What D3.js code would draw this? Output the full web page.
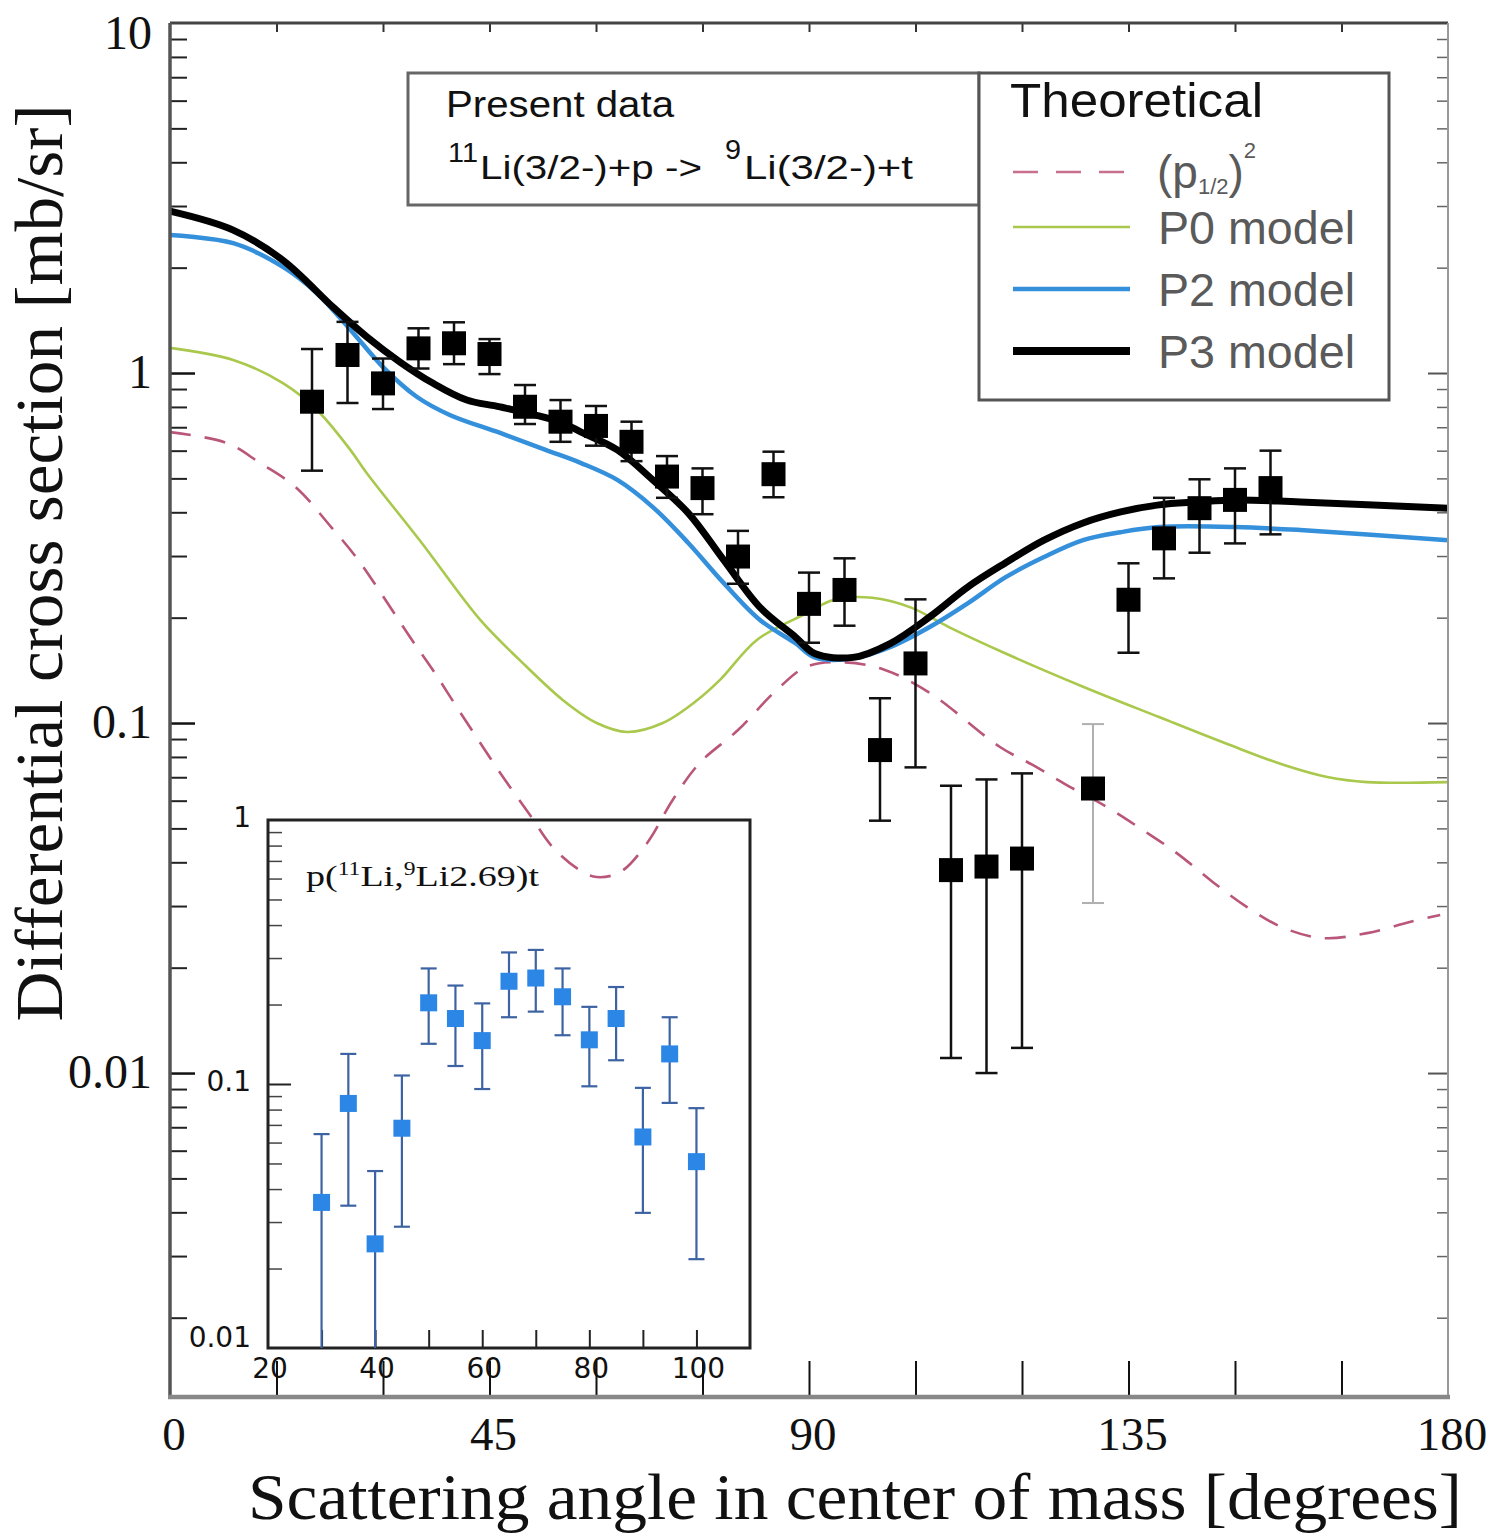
<!DOCTYPE html>
<html>
<head>
<meta charset="utf-8">
<script src="https://cdn.jsdelivr.net/npm/d3@7"></script>
<style>
  html, body { margin: 0; padding: 0; background: #fff; }
  svg { display: block; }
</style>
</head>
<body>
<div id="chart"></div>
<script>
// measured cross sections, 11Li(p,t)9Li ground state
const mainAngle = [20, 25, 30, 35, 40, 45, 50, 55, 60, 65, 70, 75, 80, 85, 90, 95, 100, 105, 110, 115, 120, 130, 135, 140, 145, 150, 155];
const mainValue = [0.828, 1.126, 0.934, 1.176, 1.216, 1.133, 0.801, 0.726, 0.706, 0.636, 0.506, 0.469, 0.299, 0.514, 0.219, 0.240, 0.0837, 0.148, 0.038, 0.0389, 0.041, 0.065, 0.225, 0.337, 0.411, 0.434, 0.469];
const mainHigh  = [1.171, 1.40, 1.10, 1.342, 1.396, 1.25, 0.924, 0.837, 0.805, 0.726, 0.579, 0.534, 0.354, 0.596, 0.269, 0.2955, 0.1177, 0.2256, 0.0662, 0.069, 0.0718, 0.0993, 0.286, 0.44, 0.497, 0.534, 0.60];
const mainLow   = [0.526, 0.821, 0.789, 1.03, 1.06, 0.993, 0.715, 0.636, 0.62, 0.56, 0.44, 0.395, 0.25, 0.4416, 0.1696, 0.1897, 0.0526, 0.0747, 0.01104, 0.0100, 0.0118, 0.0306, 0.1588, 0.259, 0.3066, 0.326, 0.346];

// theoretical curves
const p3Angle = [0, 8.9, 15.9, 23.0, 27.7, 32.4, 37.0, 41.8, 46.5, 54.8, 57.9, 63.0, 68.0, 73.0, 78.0, 83.1, 88.1, 90.8, 96.2, 101.5, 107.0, 112.4, 117.7, 123.1, 128.6, 133.9, 139.3, 144.7, 150.1, 159.2, 180];
const p3Value = [2.90, 2.56, 2.10, 1.54, 1.27, 1.075, 0.936, 0.837, 0.80, 0.726, 0.678, 0.603, 0.495, 0.398, 0.292, 0.214, 0.176, 0.158, 0.154, 0.169, 0.201, 0.245, 0.287, 0.333, 0.373, 0.401, 0.420, 0.428, 0.434, 0.428, 0.411];

const p2Angle = [0, 8.9, 15.9, 20.7, 25.4, 30.0, 34.8, 39.4, 46.5, 52.9, 57.9, 63.0, 68.0, 73.0, 78.0, 83.1, 88.1, 90.8, 96.2, 101.5, 107.0, 112.4, 117.7, 123.1, 128.6, 133.9, 139.3, 150.1, 159.2, 180];
const p2Value = [2.48, 2.35, 2.01, 1.69, 1.33, 1.04, 0.854, 0.759, 0.674, 0.603, 0.553, 0.495, 0.414, 0.327, 0.251, 0.197, 0.169, 0.154, 0.153, 0.165, 0.188, 0.220, 0.261, 0.298, 0.333, 0.351, 0.363, 0.363, 0.356, 0.333];

const p0Angle = [0, 8.9, 15.9, 20.7, 25.4, 27.7, 35.3, 43.7, 49.3, 55.4, 60.1, 64.4, 69.4, 74.2, 77.5, 82.7, 89.7, 93.5, 98.9, 104.3, 109.7, 117.7, 128.6, 139.3, 149.3, 156.8, 163.0, 168.6, 180];
const p0Value = [1.18, 1.09, 0.936, 0.784, 0.603, 0.518, 0.33, 0.197, 0.151, 0.116, 0.100, 0.0943, 0.100, 0.116, 0.133, 0.173, 0.206, 0.225, 0.228, 0.214, 0.188, 0.158, 0.127, 0.104, 0.0865, 0.0760, 0.0701, 0.0678, 0.0678];

const p12Angle = [0, 8.0, 12.7, 17.7, 22.7, 26.2, 29.6, 33.8, 37.0, 40.4, 43.7, 46.9, 50.7, 53.9, 57.7, 60.1, 63.4, 67.2, 70.8, 74.6, 80.0, 85.4, 89.7, 95.1, 100.6, 107.0, 116.9, 121.5, 126.3, 132.0, 137.0, 141.8, 146.9, 151.7, 156.8, 162.4, 168.6, 174.6, 178.9];
const p12Value = [0.678, 0.631, 0.553, 0.472, 0.363, 0.298, 0.237, 0.176, 0.142, 0.111, 0.0877, 0.0701, 0.0546, 0.0442, 0.0380, 0.0363, 0.0375, 0.0454, 0.0603, 0.0769, 0.0955, 0.124, 0.145, 0.149, 0.142, 0.122, 0.0854, 0.0759, 0.0665, 0.0575, 0.0495, 0.0425, 0.0351, 0.0298, 0.0260, 0.0243, 0.0251, 0.0270, 0.0283];

// inset: p(11Li,9Li 2.69)t
const insetAngle = [30, 35, 40, 45, 50, 55, 60, 65, 70, 75, 80, 85, 90, 95, 100];
const insetValue = [0.0356, 0.0844, 0.0248, 0.068, 0.203, 0.177, 0.146, 0.245, 0.252, 0.214, 0.147, 0.177, 0.063, 0.130, 0.0508];
const insetHigh  = [0.0646, 0.130, 0.0468, 0.1077, 0.274, 0.236, 0.202, 0.315, 0.322, 0.274, 0.196, 0.233, 0.0967, 0.179, 0.081];
const insetLow   = [0.005, 0.0346, 0.005, 0.0288, 0.142, 0.117, 0.0957, 0.179, 0.188, 0.153, 0.098, 0.123, 0.0325, 0.0848, 0.0217];

const xTickLabels = [0, 45, 90, 135, 180];
const yTickLabels = [10, 1, 0.1, 0.01];
const insetXLabels = [20, 40, 60, 80, 100];
const insetYLabels = [1, 0.1, 0.01];

const WIDTH = 1497;
const HEIGHT = 1537;
const SERIF = "'Liberation Serif', 'Times New Roman', serif";
const SANS = "'Liberation Sans', Arial, sans-serif";

const svg = d3.select("#chart")
    .append("svg")
        .attr("width", WIDTH)
        .attr("height", HEIGHT)

svg.append("rect").attr("width", WIDTH).attr("height", HEIGHT).attr("fill", "#fff")

const x = d3.scaleLinear().domain([0, 180]).range([170, 1448])
const y = d3.scaleLog().domain([0.001187, 10]).range([1397, 23])

// log minor ticks helper
function logTicks(lo, hi) {
    const out = []
    for (let d = lo; d < hi; d *= 10)
        for (let k = 2; k <= 9; k++) out.push(+(d * k).toPrecision(3))
    return out
}

// ---- curves
const line = d3.line()
    .x(d => x(d[0]))
    .y(d => y(d[1]))
    .curve(d3.curveCatmullRom.alpha(0.5))

const curves = svg.append("g").attr("fill", "none").attr("stroke-linejoin", "round")

curves.append("path")
    .attr("d", line(d3.zip(p12Angle, p12Value)))
    .attr("stroke", "#b9567a")
    .attr("stroke-width", 2.6)
    .attr("stroke-dasharray", "21,14")

curves.append("path")
    .attr("d", line(d3.zip(p0Angle, p0Value)))
    .attr("stroke", "#a9c84c")
    .attr("stroke-width", 2.6)

curves.append("path")
    .attr("d", line(d3.zip(p2Angle, p2Value)))
    .attr("stroke", "#3590dc")
    .attr("stroke-width", 4.5)

curves.append("path")
    .attr("d", line(d3.zip(p3Angle, p3Value)))
    .attr("stroke", "#000")
    .attr("stroke-width", 7)

// ---- measured points
const mainData = mainAngle.map((a, i) => ({ a, v: mainValue[i], hi: mainHigh[i], lo: mainLow[i] }))
const pts = svg.append("g")

const bars = pts.selectAll("g.bar").data(mainData).enter().append("g")
    .attr("stroke", d => d.a === 130 ? "#b0b0b0" : "#111")
    .attr("stroke-width", d => d.a === 130 ? 2 : 2.5)
bars.append("line")
    .attr("x1", d => x(d.a)).attr("x2", d => x(d.a))
    .attr("y1", d => y(d.lo)).attr("y2", d => y(d.hi))
bars.append("line")
    .attr("x1", d => x(d.a) - 11).attr("x2", d => x(d.a) + 11)
    .attr("y1", d => y(d.lo)).attr("y2", d => y(d.lo))
bars.append("line")
    .attr("x1", d => x(d.a) - 11).attr("x2", d => x(d.a) + 11)
    .attr("y1", d => y(d.hi)).attr("y2", d => y(d.hi))

pts.selectAll("rect").data(mainData).enter().append("rect")
    .attr("x", d => x(d.a) - 12)
    .attr("y", d => y(d.v) - 12)
    .attr("width", 24)
    .attr("height", 24)
    .attr("fill", "#000")

// ---- inset
const xi = d3.scaleLinear().domain([20, 110]).range([268, 750])
const yi = d3.scaleLog().domain([0.01, 1]).range([1348, 820])
const inset = svg.append("g")

inset.append("g")
    .attr("transform", "translate(0,1348)")
    .call(d3.axisBottom(xi).tickValues(d3.range(30, 110, 10)).tickSize(-18).tickFormat(""))
    .call(g => g.select(".domain").remove())
    .call(g => g.selectAll("line").attr("stroke", "#222").attr("stroke-width", 2))

inset.append("g")
    .attr("transform", "translate(268,0)")
    .call(d3.axisLeft(yi).tickValues(logTicks(0.01, 1)).tickSize(-14).tickFormat(""))
    .call(g => g.select(".domain").remove())
    .call(g => g.selectAll("line").attr("stroke", "#444").attr("stroke-width", 1.5))

inset.append("g")
    .attr("transform", "translate(268,0)")
    .call(d3.axisLeft(yi).tickValues([0.1]).tickSize(-23).tickFormat(""))
    .call(g => g.select(".domain").remove())
    .call(g => g.selectAll("line").attr("stroke", "#222").attr("stroke-width", 2))

inset.append("rect")
    .attr("x", xi(20)).attr("y", yi(1))
    .attr("width", xi(110) - xi(20)).attr("height", yi(0.01) - yi(1))
    .attr("fill", "none").attr("stroke", "#222").attr("stroke-width", 3)

inset.selectAll("text.ix").data(insetXLabels).enter().append("text")
    .attr("x", d => xi(d) + 2)
    .attr("y", 1378)
    .attr("text-anchor", "middle")
    .attr("font-family", "'DejaVu Sans', sans-serif")
    .attr("font-size", 28)
    .attr("fill", "#111")
    .text(d => d)

inset.selectAll("text.iy").data(insetYLabels).enter().append("text")
    .attr("x", 251)
    .attr("y", d => yi(d) + (d === 0.01 ? -1 : 7))
    .attr("text-anchor", "end")
    .attr("font-family", "'DejaVu Sans', sans-serif")
    .attr("font-size", 28)
    .attr("fill", "#111")
    .text(d => d)

const insetTitle = inset.append("text")
    .attr("x", 306).attr("y", 886)
    .attr("font-family", SERIF)
    .attr("font-size", 29)
    .attr("fill", "#111")
    .attr("textLength", 233)
    .attr("lengthAdjust", "spacingAndGlyphs")
insetTitle.append("tspan").text("p(")
insetTitle.append("tspan").attr("font-size", 18).attr("dy", -11).text("11")
insetTitle.append("tspan").attr("dy", 11).text("Li,")
insetTitle.append("tspan").attr("font-size", 18).attr("dy", -11).text("9")
insetTitle.append("tspan").attr("dy", 11).text("Li2.69)t")

const insetData = insetAngle.map((a, i) => ({ a, v: insetValue[i], hi: insetHigh[i], lo: insetLow[i] }))
const ibars = inset.selectAll("g.ibar").data(insetData).enter().append("g")
    .attr("stroke", "#3d63a3")
    .attr("stroke-width", 2.2)
ibars.append("line")
    .attr("x1", d => xi(d.a)).attr("x2", d => xi(d.a))
    .attr("y1", d => yi(Math.max(d.lo, 0.01))).attr("y2", d => yi(d.hi))
ibars.filter(d => d.lo >= 0.01).append("line")
    .attr("x1", d => xi(d.a) - 8).attr("x2", d => xi(d.a) + 8)
    .attr("y1", d => yi(d.lo)).attr("y2", d => yi(d.lo))
ibars.append("line")
    .attr("x1", d => xi(d.a) - 8).attr("x2", d => xi(d.a) + 8)
    .attr("y1", d => yi(d.hi)).attr("y2", d => yi(d.hi))
inset.selectAll("rect.ipt").data(insetData).enter().append("rect")
    .attr("x", d => xi(d.a) - 8.5)
    .attr("y", d => yi(d.v) - 8.5)
    .attr("width", 17).attr("height", 17)
    .attr("fill", "#2b86e6")

// ---- main axes (ticks inward)
const tickStyle = g => g.select(".domain").remove()
const ticks15 = d3.range(15, 180, 15)

svg.append("g")
    .attr("transform", "translate(0,1397)")
    .call(d3.axisBottom(x).tickValues(ticks15).tickSize(-36).tickFormat(""))
    .call(tickStyle)
    .call(g => g.selectAll("line").attr("stroke", "#111").attr("stroke-width", 2))

svg.append("g")
    .attr("transform", "translate(0,23)")
    .call(d3.axisTop(x).tickValues(ticks15).tickSize(-9).tickFormat(""))
    .call(tickStyle)
    .call(g => g.selectAll("line").attr("stroke", "#333").attr("stroke-width", 2))

svg.append("g")
    .attr("transform", "translate(170,0)")
    .call(d3.axisLeft(y).tickValues(logTicks(0.001, 10).filter(v => v > 0.001187)).tickSize(-17).tickFormat(""))
    .call(tickStyle)
    .call(g => g.selectAll("line").attr("stroke", "#222").attr("stroke-width", 2))

svg.append("g")
    .attr("transform", "translate(170,0)")
    .call(d3.axisLeft(y).tickValues([0.01, 0.1, 1]).tickSize(-25).tickFormat(""))
    .call(tickStyle)
    .call(g => g.selectAll("line").attr("stroke", "#111").attr("stroke-width", 2.5))

svg.append("g")
    .attr("transform", "translate(1448,0)")
    .call(d3.axisRight(y).tickValues(logTicks(0.001, 10).filter(v => v > 0.001187)).tickSize(-11).tickFormat(""))
    .call(tickStyle)
    .call(g => g.selectAll("line").attr("stroke", "#666").attr("stroke-width", 1.5))

svg.append("g")
    .attr("transform", "translate(1448,0)")
    .call(d3.axisRight(y).tickValues([0.01, 0.1, 1]).tickSize(-20).tickFormat(""))
    .call(tickStyle)
    .call(g => g.selectAll("line").attr("stroke", "#555").attr("stroke-width", 2))

// frame
svg.append("line").attr("x1", 170).attr("x2", 1448).attr("y1", 23).attr("y2", 23)
    .attr("stroke", "#444").attr("stroke-width", 3)
svg.append("line").attr("x1", 170).attr("x2", 170).attr("y1", 23).attr("y2", 1397)
    .attr("stroke", "#555").attr("stroke-width", 3.5)
svg.append("line").attr("x1", 1448).attr("x2", 1448).attr("y1", 23).attr("y2", 1397)
    .attr("stroke", "#999").attr("stroke-width", 2)
svg.append("line").attr("x1", 168).attr("x2", 1450).attr("y1", 1397).attr("y2", 1397)
    .attr("stroke", "#888").attr("stroke-width", 4.5)

// tick labels
svg.selectAll("text.xl").data(xTickLabels).enter().append("text")
    .attr("x", d => x(d) + 4)
    .attr("y", 1450)
    .attr("text-anchor", "middle")
    .attr("font-family", SERIF)
    .attr("font-size", 47)
    .attr("fill", "#111")
    .text(d => d)

svg.selectAll("text.yl").data(yTickLabels).enter().append("text")
    .attr("x", 152)
    .attr("y", d => y(d) + (d === 10 ? 26 : 15))
    .attr("text-anchor", "end")
    .attr("font-family", SERIF)
    .attr("font-size", 48)
    .attr("fill", "#111")
    .text(d => d)

// axis titles
svg.append("text")
    .attr("x", 855).attr("y", 1519)
    .attr("text-anchor", "middle")
    .attr("font-family", SERIF)
    .attr("font-size", 66)
    .attr("fill", "#111")
    .attr("textLength", 1214)
    .attr("lengthAdjust", "spacingAndGlyphs")
    .text("Scattering angle in center of mass [degrees]")

svg.append("text")
    .attr("transform", "translate(62,563) rotate(-90)")
    .attr("text-anchor", "middle")
    .attr("font-family", SERIF)
    .attr("font-size", 68)
    .attr("fill", "#111")
    .attr("textLength", 917)
    .attr("lengthAdjust", "spacingAndGlyphs")
    .text("Differential cross section [mb/sr]")

// ---- legend: present data box
svg.append("rect")
    .attr("x", 408).attr("y", 73).attr("width", 571).attr("height", 132)
    .attr("fill", "#fff").attr("stroke", "#666").attr("stroke-width", 3)

svg.append("text")
    .attr("x", 446).attr("y", 117)
    .attr("font-family", SANS).attr("font-size", 36).attr("fill", "#111")
    .attr("textLength", 228).attr("lengthAdjust", "spacingAndGlyphs")
    .text("Present data")

const react = [
    { t: "11", x: 448, y: 162, size: 28, len: 30 },
    { t: "Li(3/2-)+p ->", x: 480, y: 179, size: 34, len: 222 },
    { t: "9", x: 725, y: 159, size: 28, len: 16 },
    { t: "Li(3/2-)+t", x: 744, y: 179, size: 34, len: 169 }
]
svg.selectAll("text.react").data(react).enter().append("text")
    .attr("x", d => d.x).attr("y", d => d.y)
    .attr("font-family", SANS).attr("font-size", d => d.size).attr("fill", "#111")
    .attr("textLength", d => d.len).attr("lengthAdjust", "spacingAndGlyphs")
    .text(d => d.t)

// ---- legend: theoretical box
svg.append("rect")
    .attr("x", 979).attr("y", 73).attr("width", 410).attr("height", 327)
    .attr("fill", "#fff").attr("stroke", "#555").attr("stroke-width", 3)

svg.append("text")
    .attr("x", 1010).attr("y", 117)
    .attr("font-family", SANS).attr("font-size", 48).attr("fill", "#111")
    .attr("textLength", 253).attr("lengthAdjust", "spacingAndGlyphs")
    .text("Theoretical")

const legendRows = [
    { label: "P0 model", color: "#a9c84c", width: 2.6, y: 227 },
    { label: "P2 model", color: "#3590dc", width: 4.5, y: 289 },
    { label: "P3 model", color: "#000", width: 8, y: 351 }
]
svg.append("line")
    .attr("x1", 1013).attr("x2", 1130).attr("y1", 172).attr("y2", 172)
    .attr("stroke", "#c8708e").attr("stroke-width", 2.6).attr("stroke-dasharray", "25,18")

legendRows.forEach(r => {
    svg.append("line")
        .attr("x1", 1013).attr("x2", 1130).attr("y1", r.y).attr("y2", r.y)
        .attr("stroke", r.color).attr("stroke-width", r.width)
    svg.append("text")
        .attr("x", 1158).attr("y", r.y + 17)
        .attr("font-family", SANS).attr("font-size", 46).attr("fill", "#5a5a5a")
        .attr("textLength", 197).attr("lengthAdjust", "spacingAndGlyphs")
        .text(r.label)
})

const pLabel = svg.append("text")
    .attr("x", 1157).attr("y", 188)
    .attr("font-family", SANS).attr("font-size", 46).attr("fill", "#5a5a5a")
pLabel.append("tspan").text("(p")
pLabel.append("tspan").attr("font-size", 22).attr("dy", 6).text("1/2")
pLabel.append("tspan").attr("dy", -6).text(")")
pLabel.append("tspan").attr("font-size", 22).attr("dy", -30).text("2")
</script>
</body>
</html>
